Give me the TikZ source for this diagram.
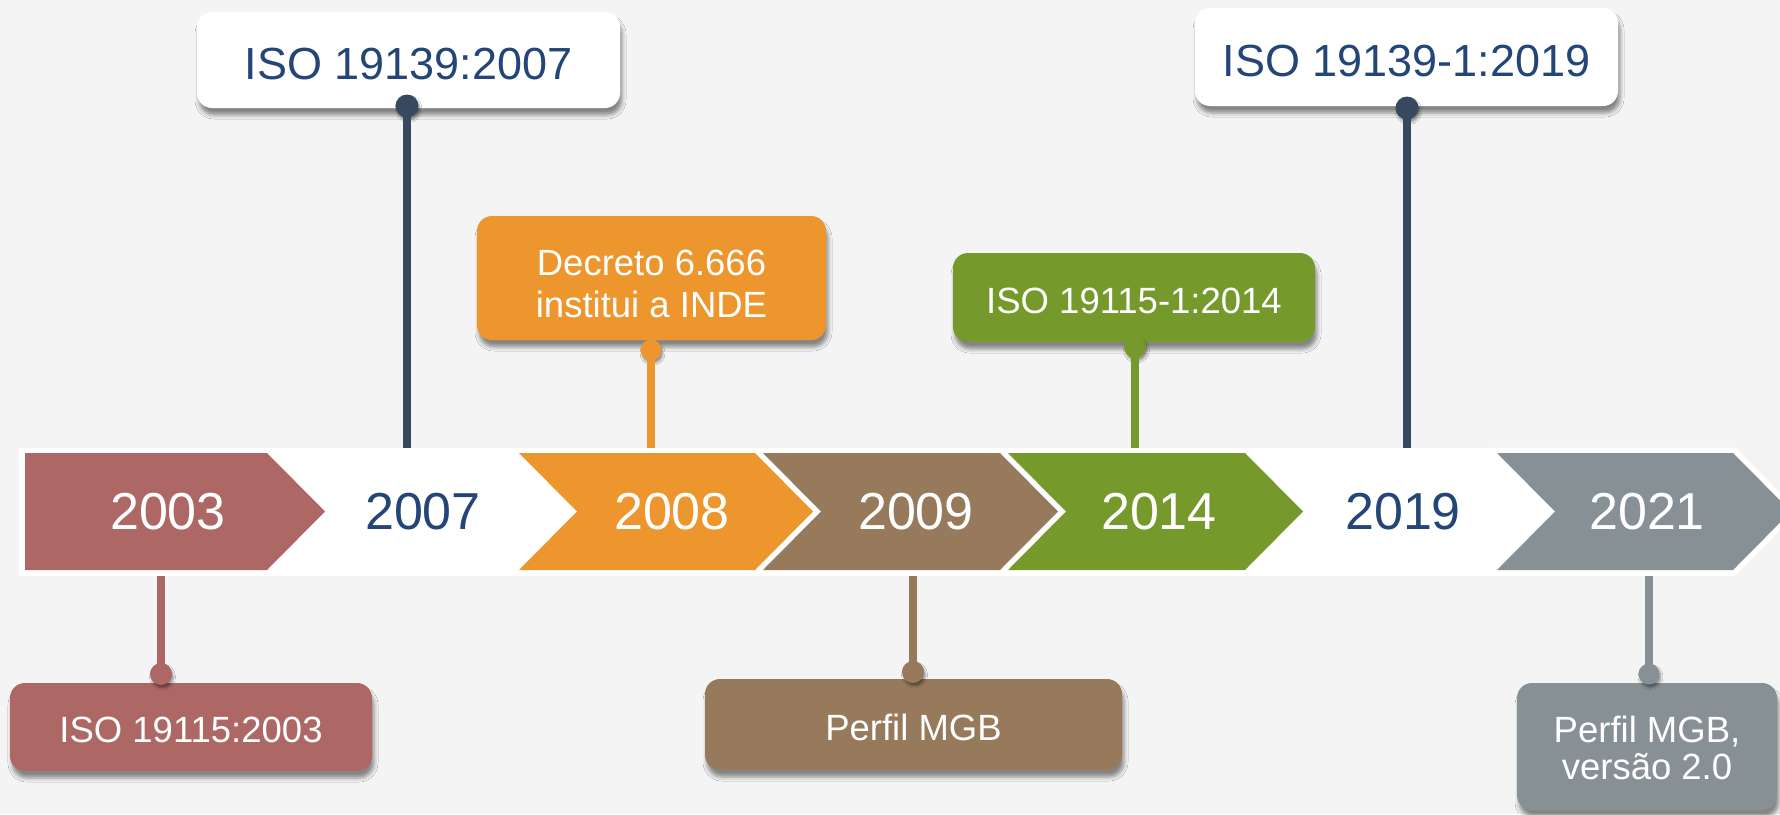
\documentclass[tikz,border=0pt]{standalone}
\usepackage{fontspec}
\setmainfont{Liberation Sans}
\usetikzlibrary{shadows.blur}
\definecolor{bgc}{HTML}{F4F4F4}
\definecolor{cred}{HTML}{AD6764}
\definecolor{corange}{HTML}{ED962E}
\definecolor{cbrown}{HTML}{967A5B}
\definecolor{cgreen}{HTML}{76992C}
\definecolor{cgrey}{HTML}{879195}
\definecolor{cnavy}{HTML}{234578}
\definecolor{cstem}{HTML}{36495E}
\begin{document}
\begin{tikzpicture}[x=1pt,y=-1pt,
  yearlbl/.style={font=\fontsize{52}{60}\selectfont, inner sep=0pt},
  callout/.style={rounded corners=15pt, inner sep=0pt, align=center,
    blur shadow={shadow xshift=2pt, shadow yshift=-7pt, shadow blur radius=4pt, shadow opacity=45}},
  smallfont/.style={font=\fontsize{36.5}{42}\selectfont},
  dotn/.style={circle, inner sep=0pt, minimum size=23pt,
    blur shadow={shadow xshift=1.5pt, shadow yshift=-3pt, shadow blur radius=2pt, shadow opacity=40}},
  stem/.style={line width=8pt}]
\useasboundingbox (0,0) rectangle (1780,814);
\fill[bgc] (0,0) rectangle (1780,814);
% band
\fill[white] (19,448) rectangle (1735,576);
% chevrons
\fill[cred] (25,453) -- (267,453) -- (325,511.5) -- (267,570) -- (25,570) -- cycle;
\fill[corange] (519,453) -- (755,453) -- (813,511.5) -- (755,570) -- (519,570) -- (577,511.5) -- cycle;
\fill[cbrown] (763,453) -- (1000,453) -- (1058,511.5) -- (1000,570) -- (763,570) -- (821,511.5) -- cycle;
\fill[cgreen] (1008,453) -- (1245,453) -- (1303,511.5) -- (1245,570) -- (1008,570) -- (1066,511.5) -- cycle;
\fill[cgrey, preaction={draw=white, line width=11pt, line join=miter}]
  (1497,453) -- (1733,453) -- (1791,511.5) -- (1733,570) -- (1497,570) -- (1555,511.5) -- cycle;
% years
\node[yearlbl, text=white] (y03) at (168,512) {2003};
\node[yearlbl, text=cnavy] (y07) at (423,512) {2007};
\node[yearlbl, text=white] (y08) at (672,512) {2008};
\node[yearlbl, text=white] (y09) at (916,512) {2009};
\node[yearlbl, text=white] (y14) at (1159,512) {2014};
\node[yearlbl, text=cnavy] (y19) at (1403,512) {2019};
\node[yearlbl, text=white] (y21) at (1647,512) {2021};
% band anchor points
\coordinate (s03) at (161,576);
\coordinate (s07) at (407,448);
\coordinate (s08) at (651,448);
\coordinate (s09) at (913,576);
\coordinate (s14) at (1135,448);
\coordinate (s19) at (1407,448);
\coordinate (s21) at (1649,576);
% callouts
\node[callout, fill=white, text=cnavy, font=\fontsize{45}{54}\selectfont,
  minimum width=423pt, minimum height=96pt] (b07) at (408.5,60) {\rule{0pt}{39pt}ISO 19139:2007};
\node[dotn, fill=cstem] (d07) at (407,106) {};
\draw[stem, cstem] (d07.center) -- (s07);

\node[callout, fill=white, text=cnavy, font=\fontsize{45}{54}\selectfont,
  minimum width=423pt, minimum height=98pt] (b19) at (1406.5,57) {\rule{0pt}{39pt}ISO 19139-1:2019};
\node[dotn, fill=cstem] (d19) at (1407,108) {};
\draw[stem, cstem] (d19.center) -- (s19);

\node[callout, smallfont, fill=corange, text=white,
  minimum width=349pt, minimum height=124pt] (b08) at (651.5,278) {\rule{0pt}{37pt}Decreto 6.666\\institui a INDE};
\node[dotn, fill=corange, minimum size=21pt] (d08) at (651,350) {};
\draw[stem, corange] (d08.center) -- (s08);

\node[callout, smallfont, fill=cgreen, text=white,
  minimum width=362pt, minimum height=89pt] (b14) at (1134,297.5) {\rule{0pt}{32pt}ISO 19115-1:2014};
\node[dotn, fill=cgreen, minimum size=22pt] (d14) at (1135,347) {};
\draw[stem, cgreen] (d14.center) -- (s14);

\node[callout, smallfont, fill=cred, text=white,
  minimum width=362pt, minimum height=88pt] (b03) at (191,727) {\rule{0pt}{32pt}ISO 19115:2003};
\node[dotn, fill=cred, minimum size=22pt] (d03) at (161,674) {};
\draw[stem, cred] (s03) -- (d03.center);

\node[callout, smallfont, fill=cbrown, text=white,
  minimum width=417pt, minimum height=91pt] (b09) at (913.5,724.5) {\rule{0pt}{32pt}Perfil MGB};
\node[dotn, fill=cbrown, minimum size=22pt] (d09) at (913,672) {};
\draw[stem, cbrown] (s09) -- (d09.center);

\node[callout, font=\fontsize{36.5}{37}\selectfont, fill=cgrey, text=white,
  minimum width=260pt, minimum height=127pt] (b21) at (1647,746.5) {\rule{0pt}{30pt}Perfil MGB,\\versão 2.0};
\node[dotn, fill=cgrey, minimum size=21pt] (d21) at (1649,674) {};
\draw[stem, cgrey] (s21) -- (d21.center);
\end{tikzpicture}
\end{document}
